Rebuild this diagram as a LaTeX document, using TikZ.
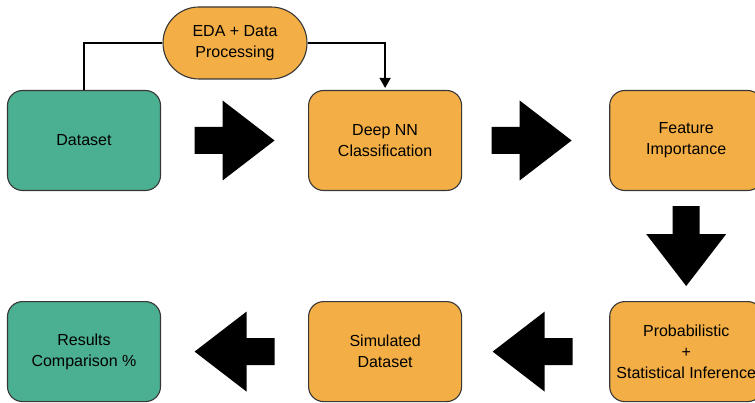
\documentclass[tikz,border=0pt]{standalone}
\usepackage{fontspec}
\setmainfont{Liberation Sans}
\usepackage{tikz}
\usetikzlibrary{arrows.meta,positioning,calc}
\definecolor{boxgreen}{RGB}{75,175,145}
\definecolor{boxorange}{RGB}{243,174,69}
\definecolor{boxline}{RGB}{55,55,55}
\tikzset{
  stepbox/.style={draw=boxline,line width=1.1pt,rounded corners=15pt,
    minimum width=153pt,minimum height=100pt,align=center,
    font=\fontsize{16}{21}\selectfont},
  greenbox/.style={stepbox,fill=boxgreen},
  orangebox/.style={stepbox,fill=boxorange},
  pillbox/.style={draw=boxline,line width=1.1pt,fill=boxorange,rounded corners=36pt,
    minimum width=144pt,minimum height=72pt,align=center,
    font=\fontsize{16}{21}\selectfont},
  thinarrow/.style={line width=1.5pt,draw=black},
  blockarrow/.pic={
    \fill[black] (-40,-13.5) -- (-12,-13.5) -- (-12,-40) -- (40,0)
      -- (-12,40) -- (-12,13.5) -- (-40,13.5) -- cycle;
  },
}
\begin{document}
\begin{tikzpicture}[x=1pt,y=1pt,node distance=110pt and 147pt]
    \useasboundingbox (0,0) rectangle (755,403);
    % top row
    \node[greenbox] (data) at (84,262.5) {Dataset};
    \node[orangebox,right=of data] (deepnn) {Deep NN\\Classification};
    \node[orangebox,right=of deepnn] (feat) {Feature\\Importance};
    % bottom row
    \node[orangebox,below=of feat] (prob) {Probabilistic\\+\\Statistical Inference};
    \node[orangebox,below=of deepnn] (sim) {Simulated\\Dataset};
    \node[greenbox,below=of data] (res) {Results\\Comparison \%};
    \node[pillbox] (eda) at (235,360) {EDA + Data\\Processing};
    % connectors
    \draw[thinarrow] (data.north) |- (eda.west);
    \draw[thinarrow,-{Triangle[length=10pt,width=11pt]}] (eda.east) -| ([yshift=2pt]deepnn.north);
    \pic at ($(data.east)!.5!(deepnn.west)$) {blockarrow};
    \pic at ($(deepnn.east)!.5!(feat.west)+(-4,0)$) {blockarrow};
    \pic[rotate=-90] at ($(feat.south)!.5!(prob.north)$) {blockarrow};
    \pic[rotate=180] at ($(prob.west)!.5!(sim.east)+(-3,0)$) {blockarrow};
    \pic[rotate=180] at ($(sim.west)!.5!(res.east)$) {blockarrow};
  \end{tikzpicture}
\end{document}
